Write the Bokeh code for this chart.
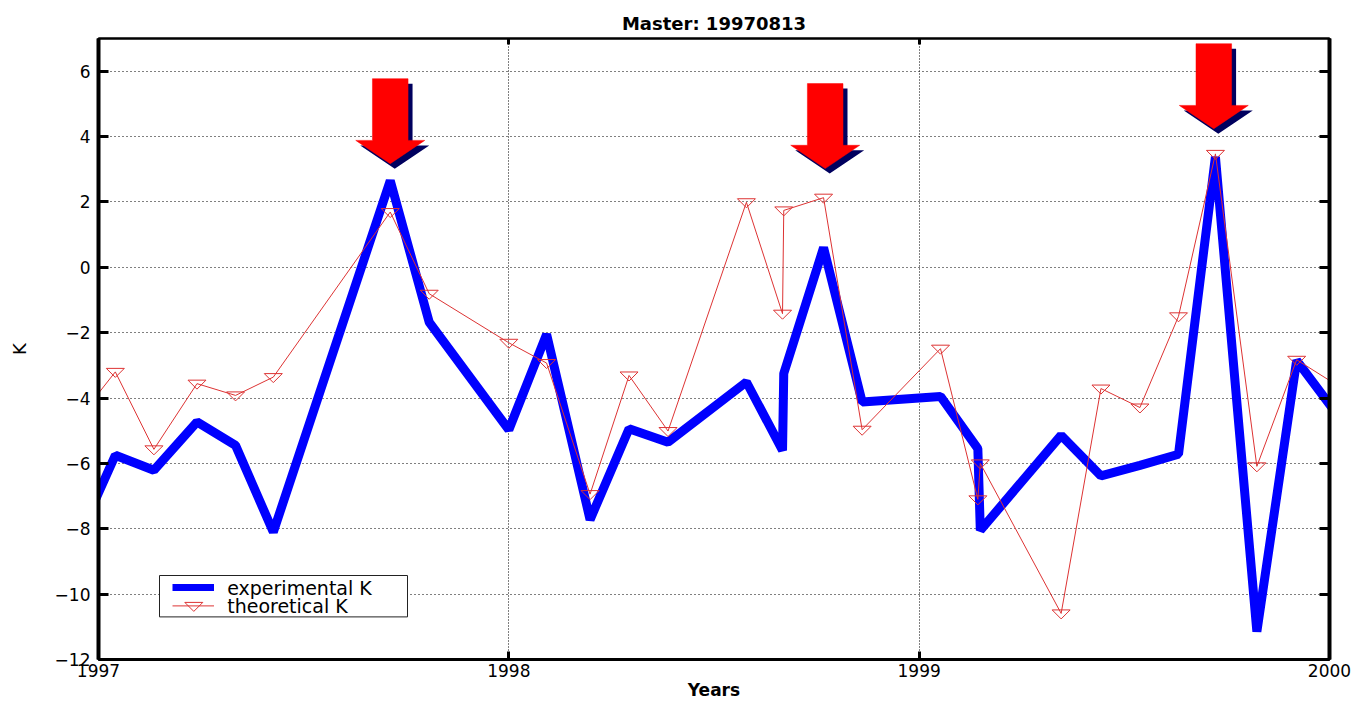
from bokeh.plotting import figure
from bokeh.models import Range1d, FixedTicker, LinearAxis, CustomJSTickFormatter
from bokeh.core.properties import value
from bokeh.embed import file_html
from bokeh.resources import INLINE

# ---------------- data ----------------
dates = [1996.950, 1997.041, 1997.135, 1997.240, 1997.334, 1997.426, 1997.711,
         1997.806, 1998.000, 1998.092, 1998.198, 1998.293, 1998.388, 1998.579,
         1998.667, 1998.670, 1998.767, 1998.861, 1999.052, 1999.143, 1999.149,
         1999.346, 1999.443, 1999.538, 1999.632, 1999.722, 1999.823, 1999.920,
         2000.030]
experimental_k = [-8.3, -5.75, -6.21, -4.73, -5.45, -8.1, 2.65,
                  -1.68, -4.97, -2.05, -7.72, -4.94, -5.35, -3.51,
                  -5.6, -3.25, 0.6, -4.12, -3.95, -5.55, -8.05,
                  -5.14, -6.38, -6.06, -5.72, 3.38, -11.15, -2.85,
                  -4.7]
theoretical_k = [-4.65, -3.2, -5.57, -3.56, -3.92, -3.36, 1.69,
                 -0.81, -2.31, -2.93, -6.94, -3.31, -5.01, 1.99,
                 -1.42, 1.74, 2.13, -4.97, -2.49, -7.1, -6.0,
                 -10.59, -3.71, -4.29, -1.5, 3.47, -6.09, -2.83,
                 -3.7]

xtick_values = [1997, 1998, 1999, 2000]
xtick_labels = ["1997", "1998", "1999", "2000"]
ytick_values = [-12, -10, -8, -6, -4, -2, 0, 2, 4, 6]
ytick_labels = ["\u221212", "\u221210", "\u22128", "\u22126", "\u22124", "\u22122",
                "0", "2", "4", "6"]

arrow_dates = [1997.711, 1998.771, 1999.718]
arrow_tips = [3.17, 3.02, 4.24]

title_text = "Master: 19970813"
x_label = "Years"
y_label = "K"
legend_labels = ["experimental K", "theoretical K"]

# ---------------- layout ----------------
W, H = 1354, 702
BL, BR, BT, BB = 98, 25, 38, 43
FW, FH = W - BL - BR, H - BT - BB
X0, X1 = 1997, 2000
Y0, Y1 = -12, 7
ppx = FW / (X1 - X0)
ppy = FH / (Y1 - Y0)

FONT = "DejaVu Sans"
BLUE = "#0000FF"
RED = "#DD3333"
NAVY = "#00005E"

p = figure(width=W, height=H, x_range=Range1d(X0, X1), y_range=Range1d(Y0, Y1),
           output_backend="svg", toolbar_location=None,
           min_border_left=BL, min_border_right=BR,
           min_border_top=BT, min_border_bottom=BB,
           background_fill_color="white", border_fill_color="white")
p.extra_x_ranges = {"px": Range1d(0, FW)}
p.extra_y_ranges = {"px": Range1d(0, FH)}

p.title.text = title_text
p.title.align = "center"
p.title.text_font = FONT
p.title.text_font_style = "bold"
p.title.text_font_size = "18px"
p.title.text_color = "black"
p.title.standoff = 10

p.outline_line_color = "black"
p.outline_line_width = 2

# axes
empty_fmt = CustomJSTickFormatter(code="return ''")

xa = p.xaxis[0]
xa.ticker = FixedTicker(ticks=xtick_values)
xa.major_label_overrides = {v: s for v, s in zip(xtick_values, xtick_labels)}
xa.axis_label = x_label
ya = p.yaxis[0]
ya.ticker = FixedTicker(ticks=ytick_values)
ya.major_label_overrides = {v: s for v, s in zip(ytick_values, ytick_labels)}
ya.axis_label = y_label

right_axis = LinearAxis(ticker=FixedTicker(ticks=ytick_values), formatter=empty_fmt)
top_axis = LinearAxis(ticker=FixedTicker(ticks=xtick_values), formatter=empty_fmt)
p.add_layout(right_axis, "right")
p.add_layout(top_axis, "above")

for ax in (xa, ya, right_axis, top_axis):
    ax.axis_line_color = "black"
    ax.major_tick_line_color = "black"
    ax.major_tick_line_width = 3
    ax.major_tick_out = 0
    ax.minor_tick_line_color = None
    ax.major_label_text_font = FONT
    ax.major_label_text_font_size = "17px"
    ax.major_label_text_color = "black"
    ax.axis_label_text_font = FONT
    ax.axis_label_text_color = "black"

ya.axis_line_width = 4
right_axis.axis_line_width = 4
xa.axis_line_width = 3
top_axis.axis_line_width = 2
ya.major_tick_in = 10
right_axis.major_tick_in = 10
xa.major_tick_in = 8
top_axis.major_tick_in = 6
ya.major_label_standoff = 8
xa.major_label_standoff = 4
right_axis.major_label_standoff = 0
top_axis.major_label_standoff = 0
xa.axis_label_text_font_style = "bold"
xa.axis_label_text_font_size = "17px"
xa.axis_label_standoff = 0
ya.axis_label_text_font_style = "normal"
ya.axis_label_text_font_size = "18px"
ya.axis_label_standoff = 22

# grids
p.xgrid.ticker = FixedTicker(ticks=[1998, 1999])
p.xgrid.grid_line_color = "black"
p.xgrid.grid_line_dash = "1 2"
p.xgrid.grid_line_width = 1
p.xgrid.grid_line_alpha = 1.0
p.ygrid.ticker = FixedTicker(ticks=ytick_values)
p.ygrid.grid_line_color = "black"
p.ygrid.grid_line_dash = "1 3"
p.ygrid.grid_line_width = 1
p.ygrid.grid_line_alpha = 1.0

# series
p.line(dates, experimental_k, line_color=BLUE, line_width=9, line_join="bevel")
p.line(dates, theoretical_k, line_color=RED, line_width=1)

tri_dx = [-9, 9, 0]
tri_dy = [3.5, 3.5, -5.5]
mk_xs = [[d + t / ppx for t in tri_dx] for d in dates]
mk_ys = [[v + t / ppy for t in tri_dy] for v in theoretical_k]
p.patches(mk_xs, mk_ys, fill_color=None, line_color=RED, line_width=1)

# arrows (shape in screen px, placed at data positions)
ax_shape = [-17.8, 17.8, 17.8, 34.5, 0, -34.5, -17.8]
ay_shape = [85, 85, 23.3, 23.3, 0, 23.3, 23.3]
sh_dx, sh_dy = 4.5, -5
sxs = [[d + (s + sh_dx) / ppx for s in ax_shape] for d in arrow_dates]
sys_ = [[t + (s + sh_dy) / ppy for s in ay_shape] for t in arrow_tips]
p.patches(sxs, sys_, fill_color=NAVY, line_color=None)
rxs = [[d + s / ppx for s in ax_shape] for d in arrow_dates]
rys = [[t + s / ppy for s in ay_shape] for t in arrow_tips]
p.patches(rxs, rys, fill_color="#FF0000", line_color="#FF0000", line_width=0.5)

# legend (frame-pixel coordinates)
lg = dict(x_range_name="px", y_range_name="px")
p.quad(left=[61], right=[309], bottom=[42.6], top=[84], fill_color="white",
       line_color="#222222", line_width=1, **lg)
p.segment(x0=[74], x1=[115.5], y0=[72], y1=[72], line_color=BLUE, line_width=7, **lg)
p.segment(x0=[74], x1=[115.5], y0=[53.6], y1=[53.6], line_color=RED, line_width=1, **lg)
p.patches([[95.3 + t for t in tri_dx]], [[53.6 + t for t in tri_dy]],
          fill_color=None, line_color=RED, line_width=1, **lg)
p.text(x=[128.7, 128.7], y=[72, 53.6], text=legend_labels, text_align="left",
       text_baseline="middle", text_font=value(FONT), text_font_size="19px",
       text_color="black", **lg)

open("out.html", "w").write(file_html(p, INLINE))
